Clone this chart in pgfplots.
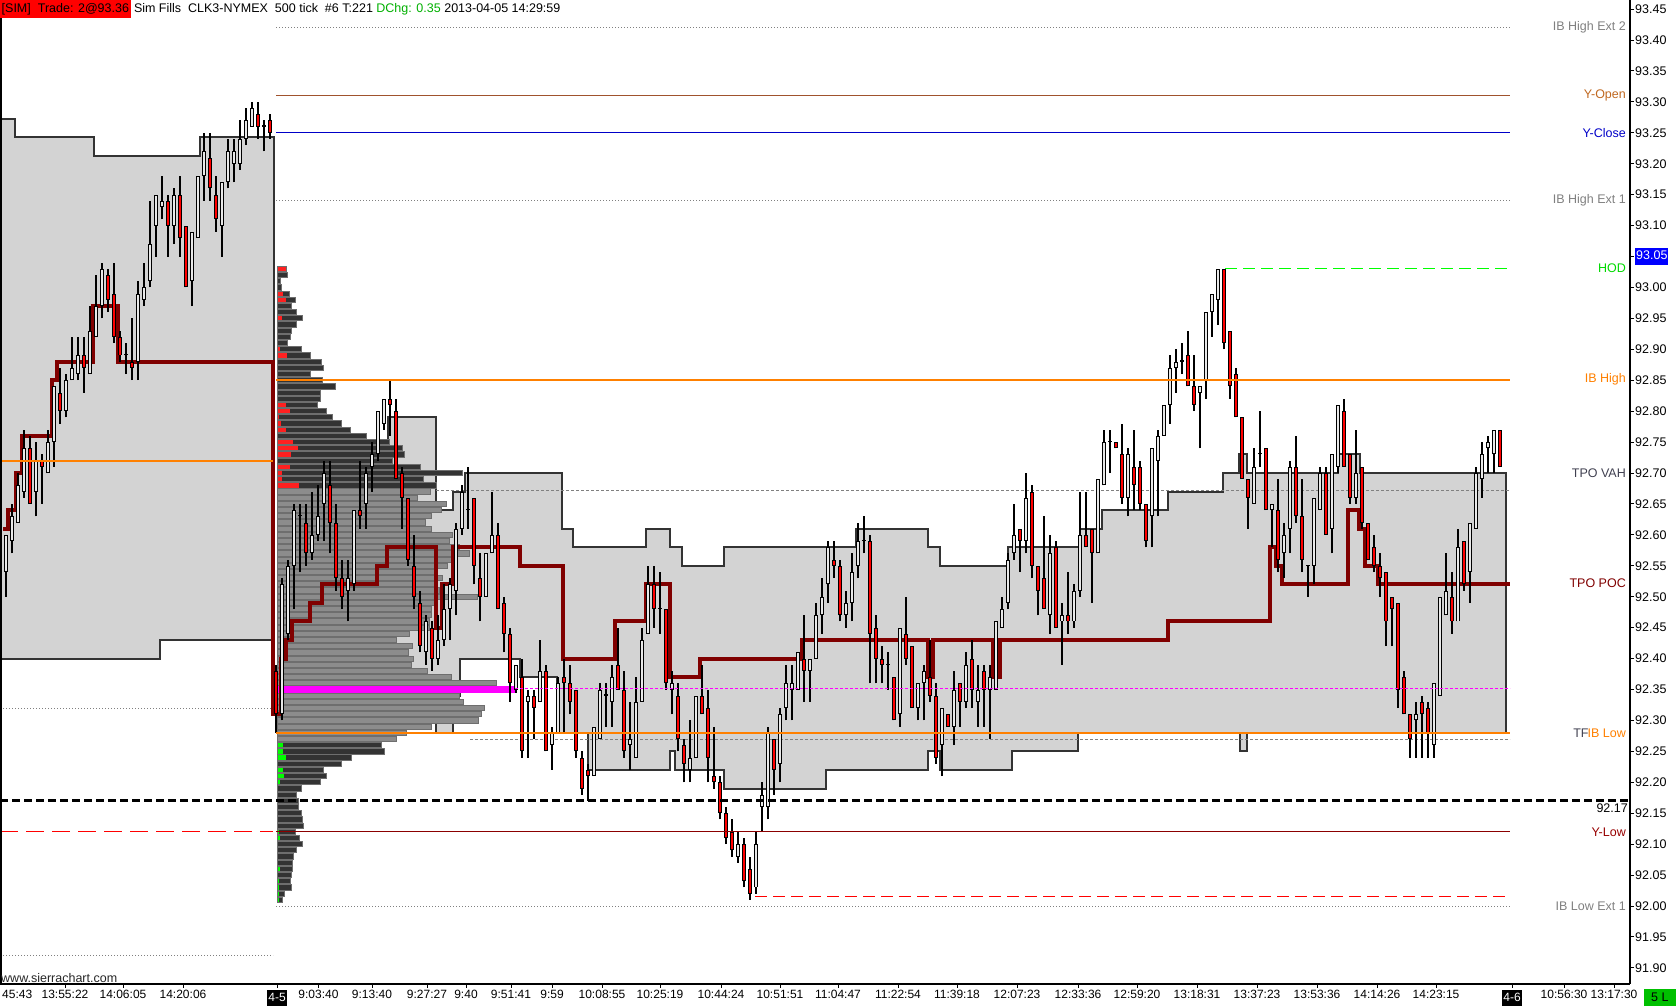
\documentclass[border=0pt]{standalone}
\usepackage{fontspec}
\setmainfont{Liberation Sans}
\usepackage{pgfplots}
\usepackage{pgfplotstable}
\pgfplotsset{compat=1.18}

\definecolor{regfill}{HTML}{D3D3D3}
\definecolor{regedge}{HTML}{333333}
\definecolor{profdark}{HTML}{333333}
\definecolor{profmid}{HTML}{8C8C8C}
\definecolor{profedge}{HTML}{6E6E6E}
\definecolor{candlered}{HTML}{FF0000}
\definecolor{candlewhite}{HTML}{E8E8E8}
\definecolor{pocred}{HTML}{800000}
\definecolor{iborange}{HTML}{FF8000}
\definecolor{ylowred}{HTML}{8B0000}
\definecolor{yopen}{HTML}{A0522D}
\definecolor{yopentext}{HTML}{C06820}
\definecolor{yclose}{HTML}{0000C8}
\definecolor{hodgreen}{HTML}{00FF00}
\definecolor{lvlgray}{HTML}{808080}
\definecolor{vahtext}{HTML}{404050}
\definecolor{tickblue}{HTML}{0000FF}
\definecolor{dchg}{HTML}{00B000}
\definecolor{boxgreen}{HTML}{00C000}
\definecolor{segred}{HTML}{FF2020}
\definecolor{pocmag}{HTML}{FF00FF}

\newcommand\chartfont{\fontsize{12.5}{15}\selectfont}
\newcommand\timefont{\fontsize{12}{14}\selectfont}
\setlength{\fboxsep}{1.5pt}

% candles: x (px), open, high, low, close
\pgfplotstableread{
x o h l c
6 92.54 92.60 92.50 92.60
12 92.59 92.65 92.57 92.63
18 92.62 92.70 92.62 92.68
24 92.67 92.77 92.66 92.74
30 92.74 92.76 92.65 92.65
36 92.67 92.75 92.63 92.72
42 92.72 92.73 92.65 92.71
48 92.70 92.77 92.70 92.75
54 92.75 92.84 92.71 92.84
60 92.83 92.87 92.78 92.80
66 92.80 92.86 92.79 92.85
72 92.85 92.92 92.85 92.87
78 92.86 92.92 92.85 92.89
84 92.89 92.92 92.83 92.87
90 92.86 92.97 92.86 92.93
96 92.92 93.02 92.92 92.97
102 92.97 93.04 92.95 93.03
108 93.02 93.03 92.96 92.98
114 92.99 93.04 92.91 92.92
120 92.92 92.93 92.88 92.89
126 92.89 92.91 92.86 92.892
132 92.88 92.95 92.85 92.87
138 92.88 93.01 92.85 92.99
144 92.98 93.04 92.97 93.00
150 93.01 93.14 93.00 93.07
156 93.10 93.15 93.05 93.15
162 93.13 93.18 93.11 93.14
168 93.14 93.15 93.05 93.10
174 93.10 93.16 93.07 93.15
180 93.15 93.18 93.05 93.08
186 93.10 93.10 93.00 93.00
192 93.01 93.09 92.97 93.09
198 93.08 93.18 93.08 93.18
204 93.18 93.25 93.14 93.22
210 93.21 93.25 93.14 93.16
216 93.15 93.18 93.09 93.11
222 93.10 93.17 93.05 93.17
228 93.17 93.24 93.16 93.22
234 93.20 93.24 93.17 93.22
240 93.20 93.27 93.19 93.24
246 93.24 93.29 93.23 93.27
252 93.26 93.30 93.26 93.29
258 93.28 93.30 93.24 93.26
264 93.26 93.27 93.22 93.262
270 93.27 93.28 93.24 93.25
276 92.38 92.39 92.28 92.31
282 92.31 92.53 92.30 92.52
288 92.44 92.56 92.43 92.55
294 92.55 92.65 92.48 92.64
300 92.63 92.65 92.54 92.632
306 92.62 92.65 92.55 92.57
312 92.57 92.67 92.56 92.60
318 92.60 92.68 92.59 92.63
324 92.65 92.72 92.59 92.70
330 92.68 92.72 92.57 92.62
336 92.62 92.65 92.51 92.53
342 92.53 92.56 92.48 92.50
348 92.51 92.56 92.46 92.53
354 92.52 92.64 92.51 92.64
360 92.64 92.72 92.61 92.63
366 92.65 92.71 92.61 92.70
372 92.71 92.75 92.67 92.73
378 92.73 92.80 92.72 92.80
384 92.78 92.82 92.77 92.82
390 92.82 92.85 92.76 92.81
396 92.80 92.82 92.69 92.69
402 92.70 92.71 92.61 92.66
408 92.66 92.66 92.55 92.56
414 92.55 92.60 92.48 92.50
420 92.49 92.51 92.41 92.42
426 92.41 92.47 92.39 92.46
432 92.45 92.46 92.38 92.40
438 92.40 92.47 92.39 92.43
444 92.43 92.52 92.42 92.48
450 92.48 92.53 92.43 92.52
456 92.51 92.62 92.47 92.61
462 92.61 92.68 92.60 92.67
468 92.64 92.71 92.61 92.642
474 92.66 92.66 92.52 92.55
480 92.53 92.57 92.46 92.50
486 92.50 92.57 92.50 92.57
492 92.57 92.67 92.57 92.60
498 92.60 92.62 92.48 92.48
504 92.49 92.50 92.41 92.44
510 92.44 92.45 92.33 92.36
516 92.35 92.39 92.345 92.39
522 92.37 92.40 92.24 92.25
528 92.33 92.35 92.24 92.34
534 92.34 92.35 92.27 92.32
540 92.33 92.43 92.33 92.38
546 92.38 92.39 92.25 92.25
552 92.26 92.29 92.22 92.28
558 92.28 92.37 92.28 92.36
564 92.37 92.40 92.28 92.36
570 92.36 92.39 92.31 92.33
576 92.35 92.35 92.24 92.25
582 92.24 92.25 92.18 92.19
588 92.22 92.23 92.17 92.21
594 92.21 92.29 92.21 92.29
600 92.27 92.36 92.27 92.35
606 92.34 92.36 92.29 92.342
612 92.33 92.39 92.29 92.37
618 92.39 92.45 92.35 92.35
624 92.35 92.38 92.24 92.25
630 92.26 92.33 92.22 92.27
636 92.24 92.37 92.24 92.33
642 92.33 92.45 92.33 92.43
648 92.44 92.55 92.44 92.52
654 92.52 92.55 92.45 92.48
660 92.48 92.54 92.44 92.482
666 92.48 92.48 92.35 92.36
672 92.35 92.38 92.31 92.36
678 92.34 92.36 92.25 92.27
684 92.26 92.27 92.20 92.23
690 92.22 92.30 92.20 92.24
696 92.24 92.34 92.24 92.34
702 92.34 92.39 92.31 92.31
708 92.32 92.35 92.20 92.24
714 92.21 92.29 92.19 92.20
720 92.20 92.21 92.14 92.15
726 92.15 92.16 92.10 92.11
732 92.12 92.14 92.08 92.09
738 92.08 92.12 92.07 92.10
744 92.10 92.11 92.03 92.04
750 92.06 92.08 92.01 92.02
756 92.03 92.12 92.02 92.10
762 92.16 92.20 92.12 92.18
768 92.16 92.29 92.14 92.28
774 92.27 92.27 92.18 92.22
780 92.23 92.32 92.20 92.31
786 92.32 92.39 92.30 92.36
792 92.35 92.39 92.30 92.36
798 92.35 92.41 92.35 92.41
804 92.40 92.47 92.33 92.38
810 92.38 92.40 92.33 92.40
816 92.40 92.49 92.40 92.47
822 92.47 92.53 92.44 92.50
828 92.52 92.59 92.49 92.58
834 92.56 92.59 92.53 92.55
840 92.55 92.56 92.46 92.47
846 92.47 92.51 92.45 92.49
852 92.49 92.57 92.46 92.54
858 92.55 92.62 92.53 92.59
864 92.59 92.63 92.57 92.592
870 92.59 92.60 92.36 92.44
876 92.45 92.47 92.36 92.40
882 92.40 92.42 92.36 92.39
888 92.39 92.41 92.35 92.392
894 92.37 92.37 92.30 92.30
900 92.31 92.45 92.29 92.45
906 92.44 92.50 92.39 92.40
912 92.42 92.42 92.32 92.32
918 92.32 92.36 92.30 92.36
924 92.36 92.39 92.30 92.38
930 92.37 92.43 92.33 92.34
936 92.34 92.36 92.23 92.24
942 92.26 92.32 92.21 92.32
948 92.31 92.31 92.29 92.29
954 92.29 92.38 92.26 92.35
960 92.36 92.36 92.29 92.33
966 92.33 92.41 92.32 92.39
972 92.40 92.43 92.32 92.35
978 92.33 92.39 92.29 92.35
984 92.38 92.39 92.29 92.35
990 92.35 92.39 92.27 92.37
996 92.35 92.46 92.35 92.46
1002 92.45 92.50 92.45 92.48
1008 92.49 92.57 92.48 92.56
1014 92.57 92.65 92.56 92.60
1020 92.61 92.61 92.54 92.59
1026 92.59 92.70 92.57 92.66
1032 92.67 92.68 92.53 92.55
1038 92.55 92.55 92.47 92.51
1044 92.53 92.63 92.48 92.48
1050 92.47 92.60 92.44 92.57
1056 92.58 92.59 92.45 92.45
1062 92.46 92.49 92.39 92.47
1068 92.47 92.54 92.44 92.46
1074 92.46 92.52 92.45 92.51
1080 92.51 92.67 92.50 92.60
1086 92.60 92.67 92.58 92.58
1092 92.61 92.61 92.49 92.57
1098 92.57 92.69 92.57 92.69
1104 92.68 92.77 92.68 92.75
1110 92.75 92.77 92.70 92.752
1116 92.75 92.75 92.74 92.74
1122 92.73 92.78 92.65 92.66
1128 92.66 92.74 92.63 92.73
1134 92.71 92.77 92.64 92.68
1140 92.71 92.72 92.64 92.65
1146 92.65 92.65 92.58 92.59
1152 92.63 92.74 92.58 92.74
1158 92.72 92.77 92.63 92.76
1164 92.76 92.81 92.76 92.81
1170 92.81 92.89 92.78 92.87
1176 92.87 92.90 92.83 92.88
1182 92.88 92.91 92.86 92.882
1188 92.89 92.93 92.84 92.84
1194 92.84 92.89 92.80 92.81
1200 92.83 92.84 92.74 92.84
1206 92.85 92.96 92.82 92.96
1212 92.96 92.99 92.92 92.99
1218 92.98 93.03 92.94 93.03
1224 93.03 93.03 92.90 92.91
1230 92.93 92.93 92.82 92.84
1236 92.86 92.87 92.79 92.79
1242 92.79 92.79 92.69 92.69
1248 92.69 92.69 92.61 92.66
1254 92.65 92.74 92.65 92.71
1260 92.73 92.80 92.71 92.732
1266 92.74 92.74 92.64 92.64
1272 92.64 92.65 92.58 92.65
1278 92.64 92.69 92.54 92.56
1284 92.57 92.62 92.53 92.60
1290 92.61 92.72 92.57 92.71
1296 92.71 92.76 92.62 92.63
1302 92.63 92.69 92.54 92.56
1308 92.55 92.55 92.50 92.552
1314 92.55 92.66 92.52 92.66
1320 92.64 92.71 92.64 92.70
1326 92.70 92.71 92.60 92.60
1332 92.61 92.73 92.57 92.73
1338 92.71 92.81 92.70 92.81
1344 92.80 92.82 92.71 92.71
1350 92.73 92.73 92.65 92.66
1356 92.66 92.77 92.65 92.70
1362 92.71 92.71 92.61 92.62
1368 92.62 92.62 92.56 92.56
1374 92.58 92.60 92.54 92.55
1380 92.55 92.57 92.50 92.53
1386 92.54 92.54 92.42 92.46
1392 92.50 92.50 92.42 92.48
1398 92.49 92.49 92.32 92.35
1404 92.37 92.38 92.31 92.31
1410 92.31 92.31 92.24 92.27
1416 92.30 92.33 92.24 92.31
1422 92.33 92.34 92.24 92.31
1428 92.32 92.33 92.24 92.28
1434 92.26 92.36 92.24 92.36
1440 92.34 92.50 92.34 92.50
1446 92.47 92.57 92.47 92.51
1452 92.50 92.54 92.44 92.46
1458 92.46 92.61 92.46 92.58
1464 92.59 92.59 92.51 92.52
1470 92.54 92.62 92.49 92.62
1476 92.61 92.71 92.61 92.70
1482 92.69 92.75 92.66 92.73
1488 92.74 92.76 92.70 92.75
1494 92.73 92.77 92.70 92.77
1500 92.77 92.77 92.71 92.71
}\candles

% volume profile: price, bar end (px), type (0 dark, 1 value area), coloured segment end (px)
\pgfplotstableread{
p e t s
93.03 287 0 286
93.02 288 0 278
93.01 281 0 0
93.00 282 0 0
92.99 290 0 283
92.98 296 0 286
92.97 292 0 0
92.96 297 0 0
92.95 303 0 282
92.94 297 0 278
92.93 292 0 0
92.92 291 0 0
92.91 288 0 0
92.90 302 0 280
92.89 311 0 287
92.88 322 0 0
92.87 324 0 0
92.86 311 0 0
92.85 323 0 278
92.84 336 0 0
92.83 321 0 278
92.82 321 0 278
92.81 318 0 286
92.80 327 0 290
92.79 333 0 279
92.78 342 0 281
92.77 351 0 286
92.76 367 0 0
92.75 390 0 293
92.74 403 0 298
92.73 405 0 291
92.72 393 0 0
92.71 421 0 290
92.70 463 0 282
92.69 424 0 282
92.68 437 0 299
92.67 431 1 0
92.66 418 1 0
92.65 447 1 0
92.64 442 1 0
92.63 432 1 0
92.62 426 1 0
92.61 432 1 0
92.60 453 1 0
92.59 450 1 0
92.58 460 1 0
92.57 470 1 0
92.56 458 1 0
92.55 448 1 0
92.54 437 1 0
92.53 443 1 0
92.52 435 1 0
92.51 440 1 0
92.50 478 1 0
92.49 437 1 0
92.48 432 1 0
92.47 432 1 0
92.46 430 1 0
92.45 430 1 0
92.44 410 1 0
92.43 397 1 0
92.42 413 1 0
92.41 409 1 0
92.40 414 1 0
92.39 412 1 0
92.38 428 1 0
92.37 452 1 0
92.36 497 1 0
92.34 460 1 0
92.33 464 1 0
92.32 485 1 0
92.31 482 1 0
92.30 479 1 0
92.29 432 1 0
92.28 407 1 0
92.27 397 1 0
92.26 382 0 283
92.25 385 0 283
92.24 352 0 286
92.23 342 0 0
92.22 324 0 283
92.21 327 0 284
92.20 321 0 280
92.19 302 0 0
92.18 297 0 0
92.17 299 0 0
92.16 299 0 0
92.15 302 0 0
92.14 303 0 278
92.13 304 0 0
92.12 296 0 279
92.11 300 0 280
92.10 303 0 0
92.09 297 0 0
92.08 294 0 278
92.07 293 0 0
92.06 293 0 280
92.05 292 0 0
92.04 291 0 279
92.03 292 0 279
92.02 285 0 279
92.01 283 0 279
}\profile

\begin{document}
\begin{tikzpicture}
\begin{axis}[
  at={(0pt,22pt)}, anchor=south west,
  scale only axis, width=1630pt, height=984pt,
  xmin=0, xmax=1630, ymin=91.874, ymax=93.4647,
  axis x line*=bottom, axis y line*=right,
  axis line style={-, black, line width=1.3pt},
  tick align=outside, major tick length=4pt,
  tick style={black, line width=1pt},
  yticklabel style={font=\chartfont, anchor=west, inner sep=1pt},
  xticklabel style={font=\timefont, inner sep=2pt},
  ytick={91.90,91.95,92.00,92.05,92.10,92.15,92.20,92.25,92.30,92.35,92.40,92.45,92.50,92.55,92.60,92.65,92.70,92.75,92.80,92.85,92.90,92.95,93.00,93.05,93.10,93.15,93.20,93.25,93.30,93.35,93.40,93.45},
  yticklabels={91.90,91.95,92.00,92.05,92.10,92.15,92.20,92.25,92.30,92.35,92.40,92.45,92.50,92.55,92.60,92.65,92.70,92.75,92.80,92.85,92.90,92.95,93.00,{\setlength{\fboxsep}{1pt}\colorbox{tickblue}{\strut\textcolor{white}{93.05}}},93.10,93.15,93.20,93.25,93.30,93.35,93.40,93.45},
  xtick={65,123,183,277,318.5,372,427,466,511,552,602,660,721,780,838,898,957,1017,1078,1137,1197,1257,1317,1377,1436,1512,1564,1614},
  xticklabels={13:55:22,14:06:05,14:20:06,{\colorbox{black}{\strut\textcolor{white}{4-5}}},9:03:40,9:13:40,9:27:27,9:40,9:51:41,9:59,10:08:55,10:25:19,10:44:24,10:51:51,11:04:47,11:22:54,11:39:18,12:07:23,12:33:36,12:59:20,13:18:31,13:37:23,13:53:36,14:14:26,14:23:15,{\colorbox{black}{\strut\textcolor{white}{4-6}}},10:56:30,13:17:30},
  clip=false,
]

% previous session value area (left) and current session value area
\addplot[fill=regfill, draw=regedge, line width=2pt] coordinates {
 (0,92.40) (0,93.272) (15,93.272) (15,93.243) (94,93.243) (94,93.212) (200,93.212) (200,93.243) (274,93.243) (274,92.43) (160,92.43) (160,92.40)} -- cycle;
\addplot[fill=regfill, draw=regedge, line width=2pt] coordinates {
 (283,92.34) (283,92.55) (388,92.55) (388,92.79) (436,92.79) (436,92.64) (453,92.64) (453,92.67) (465,92.67) (465,92.70) (562,92.70) (562,92.61) (573,92.61) (573,92.58) (646,92.58) (646,92.61) (670,92.61) (670,92.58) (682,92.58) (682,92.55) (724,92.55) (724,92.58) (856,92.58) (856,92.61) (928,92.61) (928,92.58) (940,92.58) (940,92.55) (1008,92.55) (1008,92.58) (1080,92.58) (1080,92.61) (1102,92.61) (1102,92.64) (1168,92.64) (1168,92.67) (1223,92.67) (1223,92.70) (1239,92.70) (1239,92.73) (1247,92.73) (1247,92.70) (1338,92.70) (1338,92.73) (1360,92.73) (1360,92.70) (1506,92.70)
 (1506,92.28) (1247,92.28) (1247,92.25) (1240,92.25) (1240,92.28) (1078,92.28) (1078,92.25) (1012,92.25) (1012,92.22) (940,92.22) (940,92.25) (928,92.25) (928,92.22) (826,92.22) (826,92.19) (724,92.19) (724,92.22) (675,92.22) (675,92.25) (670,92.25) (670,92.22) (588,92.22) (588,92.28) (557,92.28) (557,92.37) (520,92.37) (520,92.40) (460,92.40) (460,92.34) (453,92.34) (453,92.28) (436,92.28) (436,92.37) (376,92.37) (376,92.34) (370,92.34) (370,92.37) (322,92.37) (322,92.34)} -- cycle;

% dotted / dashed levels under the candles
\addplot[lvlgray, line width=1pt, dash pattern=on 1pt off 2pt] coordinates {(276,93.421) (1510,93.421)};
\addplot[lvlgray, line width=1pt, dash pattern=on 1pt off 2pt] coordinates {(276,93.141) (1510,93.141)};
\addplot[lvlgray, line width=1pt, dash pattern=on 1pt off 2pt] coordinates {(276,92.00) (1510,92.00)};
\addplot[lvlgray, line width=1pt, dash pattern=on 1pt off 2pt] coordinates {(0,92.32) (273,92.32)};
\addplot[lvlgray, line width=1pt, dash pattern=on 1pt off 2pt] coordinates {(0,91.92) (273,91.92)};
\addplot[lvlgray, line width=1pt, dash pattern=on 3pt off 2pt] coordinates {(436,92.671) (1510,92.671)};
\addplot[lvlgray, line width=1pt, dash pattern=on 3pt off 2pt] coordinates {(470,92.27) (1510,92.27)};
\addplot[yopen, line width=1pt] coordinates {(276,93.31) (1510,93.31)};
\addplot[yclose, line width=1pt] coordinates {(276,93.25) (1510,93.25)};
\addplot[hodgreen, line width=1.3pt, dash pattern=on 12pt off 6pt] coordinates {(1225,93.031) (1510,93.031)};
\addplot[candlered, line width=1.3pt, dash pattern=on 12pt off 6pt] coordinates {(755,92.015) (1510,92.015)};
\addplot[candlered, line width=1.3pt, dash pattern=on 18pt off 8pt] coordinates {(0,92.12) (273,92.12)};

% volume profile bars
\addplot[draw=none, mark=none, restrict expr to domain={\thisrow{t}}{0:0},
  error bars/.cd, x dir=plus, x explicit, error mark=none,
  error bar style={draw=profedge, line width=6.2pt}]
  table[x expr=277, y=p, x error plus expr=\thisrow{e}-277] \profile;
\addplot[draw=none, mark=none, restrict expr to domain={\thisrow{t}}{1:1},
  error bars/.cd, x dir=plus, x explicit, error mark=none,
  error bar style={draw=profedge, line width=6.2pt}]
  table[x expr=277, y=p, x error plus expr=\thisrow{e}-277] \profile;
\addplot[draw=none, mark=none, restrict expr to domain={\thisrow{t}}{0:0},
  error bars/.cd, x dir=plus, x explicit, error mark=none,
  error bar style={draw=profdark, line width=4.2pt}]
  table[x expr=278, y=p, x error plus expr=\thisrow{e}-279] \profile;
\addplot[draw=none, mark=none, restrict expr to domain={\thisrow{t}}{1:1},
  error bars/.cd, x dir=plus, x explicit, error mark=none,
  error bar style={draw=profmid, line width=4.2pt}]
  table[x expr=278, y=p, x error plus expr=\thisrow{e}-279] \profile;
\addplot[draw=none, mark=none, restrict expr to domain={\thisrow{s}}{279:400},
  error bars/.cd, x dir=plus, x explicit, error mark=none,
  error bar style={draw=segred, line width=4.2pt}]
  table[x expr=278, y expr={\thisrow{p}>92.5 ? \thisrow{p} : 95}, x error plus expr={\thisrow{s}-278}] \profile;
\addplot[draw=none, mark=none, restrict expr to domain={\thisrow{s}}{279:400},
  error bars/.cd, x dir=plus, x explicit, error mark=none,
  error bar style={draw=hodgreen, line width=4.2pt}]
  table[x expr=278, y expr={\thisrow{p}<92.5 ? \thisrow{p} : 95}, x error plus expr={\thisrow{s}-278}] \profile;
\addplot[draw=none, mark=none,
  error bars/.cd, x dir=plus, x explicit, error mark=none,
  error bar style={draw=pocmag, line width=7pt}]
  coordinates {(277,92.35) +- (238,0)};

% POC step line
\addplot[pocred, line width=4pt] coordinates {
 (3,92.61) (8,92.61) (8,92.64) (16,92.64) (16,92.70) (22,92.70) (22,92.76) (52,92.76) (52,92.85) (57,92.85) (57,92.88) (93,92.88) (93,92.97) (118,92.97) (118,92.88) (273,92.88) (273,92.31) (281,92.31) (281,92.40) (286,92.40) (286,92.43) (292,92.43) (292,92.46) (310,92.46) (310,92.49) (322,92.49) (322,92.52) (377,92.52) (377,92.55) (387,92.55) (387,92.58) (436,92.58) (436,92.45) (442,92.45) (442,92.52) (453,92.52) (453,92.58) (520,92.58) (520,92.55) (563,92.55) (563,92.40) (615,92.40) (615,92.46) (646,92.46) (646,92.52) (670,92.52) (670,92.37) (700,92.37) (700,92.40) (802,92.40) (802,92.43) (928,92.43) (928,92.37) (933,92.37) (933,92.43) (993,92.43) (993,92.37) (1000,92.37) (1000,92.43) (1168,92.43) (1168,92.46) (1270,92.46) (1270,92.58) (1276,92.58) (1276,92.55) (1282,92.55) (1282,92.52) (1348,92.52) (1348,92.64) (1359,92.64) (1359,92.61) (1365,92.61) (1365,92.55) (1378,92.55) (1378,92.52) (1510,92.52)};

% candles: wicks, body outlines, body fills
\addplot[draw=none, mark=none,
  error bars/.cd, y dir=plus, y explicit, error mark=none,
  error bar style={draw=black, line width=1.6pt}]
  table[x=x, y=l, y error plus expr=\thisrow{h}-\thisrow{l}] \candles;
\addplot[draw=none, mark=none,
  error bars/.cd, y dir=plus, y explicit, error mark=none,
  error bar style={draw=black, line width=4.4pt}]
  table[x=x, y expr={min(\thisrow{o},\thisrow{c})}, y error plus expr={abs(\thisrow{c}-\thisrow{o})}] \candles;
\addplot[draw=none, mark=none, restrict expr to domain={\thisrow{c}-\thisrow{o}}{0:1},
  error bars/.cd, y dir=plus, y explicit, error mark=none,
  error bar style={draw=candlewhite, line width=2.4pt}]
  table[x=x, y expr={min(\thisrow{o},\thisrow{c})+0.0016}, y error plus expr={max(abs(\thisrow{c}-\thisrow{o})-0.0032,0)}] \candles;
\addplot[draw=none, mark=none, restrict expr to domain={\thisrow{c}-\thisrow{o}}{-1:-0.0001},
  error bars/.cd, y dir=plus, y explicit, error mark=none,
  error bar style={draw=candlered, line width=2.4pt}]
  table[x=x, y expr={min(\thisrow{o},\thisrow{c})+0.0016}, y error plus expr={max(abs(\thisrow{c}-\thisrow{o})-0.0032,0)}] \candles;

% levels over the candles
\addplot[iborange, line width=2pt] coordinates {(0,92.72) (273,92.72)};
\addplot[iborange, line width=2pt] coordinates {(276,92.851) (1510,92.851)};
\addplot[iborange, line width=2pt] coordinates {(276,92.28) (1510,92.28)};
\addplot[pocmag, line width=1pt, dash pattern=on 3pt off 2pt] coordinates {(515,92.351) (1510,92.351)};
\addplot[ylowred, line width=1pt] coordinates {(276,92.12) (1510,92.12)};
\addplot[black, line width=3pt, dash pattern=on 8pt off 4pt] coordinates {(0,92.17) (1630,92.17)};
\addplot[black, line width=1.5pt] coordinates {(0.75,91.874) (0.75,93.4647)};

% level labels
\begin{scope}[every node/.style={font=\chartfont, anchor=east, inner sep=0pt}]
\node[text=lvlgray] at (axis cs:1626,93.421) {IB High Ext 2};
\node[text=yopentext] at (axis cs:1626,93.31) {Y-Open};
\node[text=yclose] at (axis cs:1626,93.25) {Y-Close};
\node[text=lvlgray] at (axis cs:1626,93.141) {IB High Ext 1};
\node[text=hodgreen!85!black] at (axis cs:1626,93.031) {HOD};
\node[text=iborange] at (axis cs:1626,92.851) {IB High};
\node[text=vahtext] at (axis cs:1626,92.70) {TPO VAH};
\node[text=pocred] at (axis cs:1626,92.522) {TPO POC};
\node at (axis cs:1626,92.28) {\textcolor{vahtext}{TF}\kern-1pt\textcolor{iborange}{IB Low}};
\node[text=black] at (axis cs:1628,92.158) {92.17};
\node[text=ylowred!90!red] at (axis cs:1626,92.12) {Y-Low};
\node[text=lvlgray] at (axis cs:1626,92.00) {IB Low Ext 1};
\end{scope}

% header, watermark, cut label
\node[anchor=north west, inner sep=0pt, font=\chartfont] at (axis cs:0,93.4647)
  {\colorbox{red}{\strut[SIM]\ \ Trade: 2@93.36}\ Sim Fills\ \ CLK3-NYMEX\ \ 500 tick\ \ \#6 T:221\ \textcolor{dchg}{DChg: 0.35}\ 2013-04-05 14:29:59};
\node[anchor=south west, inner sep=1pt, font=\chartfont, text=black!85] at (axis cs:0,91.874) {www.sierrachart.com};
\node[anchor=north west, inner sep=2pt, font=\timefont] at (axis cs:0,91.874) [yshift=-4pt] {45:43};
\end{axis}
\node[anchor=south east, fill=boxgreen, inner sep=2pt, font=\chartfont, minimum height=17pt, minimum width=32pt] at (1676pt,0pt) {5 L};
\pgfresetboundingbox
\path (0,0) rectangle (1676pt,1006pt);
\end{tikzpicture}
\end{document}
